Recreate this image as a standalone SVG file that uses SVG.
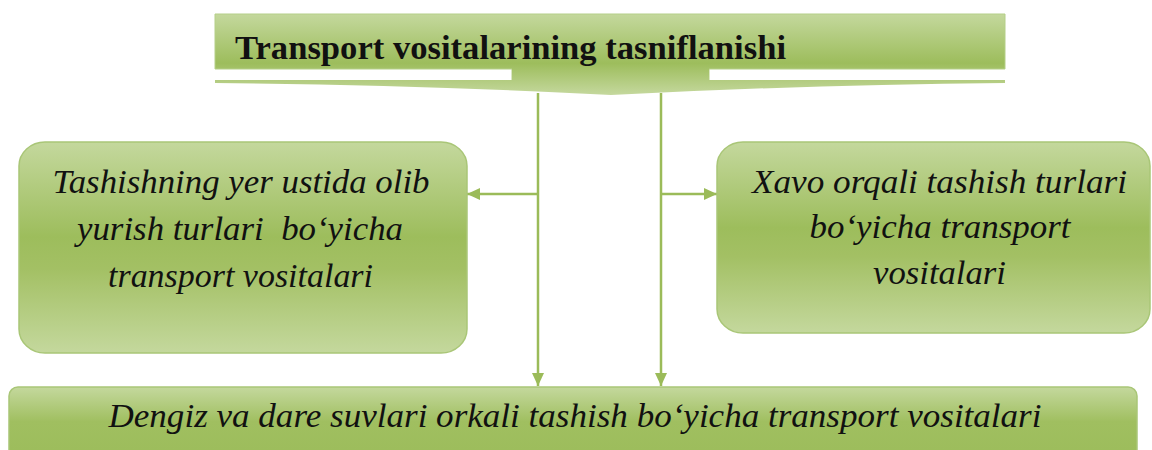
<svg xmlns="http://www.w3.org/2000/svg" width="1152" height="450" viewBox="0 0 1152 450">
  <defs>
    <linearGradient id="gBox" x1="0" y1="0" x2="0" y2="1">
      <stop offset="0" stop-color="#c4d89d"/>
      <stop offset="0.45" stop-color="#9dbd5c"/>
      <stop offset="0.6" stop-color="#a3c064"/>
      <stop offset="1" stop-color="#c4d89d"/>
    </linearGradient>
    <linearGradient id="gTitle" gradientUnits="userSpaceOnUse" x1="0" y1="14" x2="0" y2="96">
      <stop offset="0" stop-color="#c4d89d"/>
      <stop offset="0.6" stop-color="#9dbd5c"/>
      <stop offset="1" stop-color="#c6d9a0"/>
    </linearGradient>
    <linearGradient id="gBottom" gradientUnits="userSpaceOnUse" x1="0" y1="387" x2="0" y2="450">
      <stop offset="0" stop-color="#c4d89d"/>
      <stop offset="0.55" stop-color="#a0bf60"/>
      <stop offset="1" stop-color="#9dbd5c"/>
    </linearGradient>
    <marker id="arrow" markerUnits="userSpaceOnUse" markerWidth="14" markerHeight="14" refX="13" refY="7" orient="auto">
      <path d="M0,1 L13,7 L0,13 Z" fill="#9bbb59"/>
    </marker>
    <style>
      .box { stroke: #a9c677; stroke-width: 1.5; }
      .conn { stroke: #9bbb59; stroke-width: 2.5; fill: none; }
      .it { font-family: "Liberation Serif", serif; font-style: italic; font-size: 34px; fill: #111; text-anchor: middle; }
      .title { font-family: "Liberation Serif", serif; font-weight: bold; font-size: 33px; fill: #111; }
    </style>
  </defs>

  <g id="connectors">
    <line class="conn" x1="538" y1="93" x2="538" y2="386" marker-end="url(#arrow)"/>
    <line class="conn" x1="661" y1="93" x2="661" y2="386" marker-end="url(#arrow)"/>
    <line class="conn" x1="538" y1="194" x2="467" y2="194" marker-end="url(#arrow)"/>
    <line class="conn" x1="661" y1="194" x2="717" y2="194" marker-end="url(#arrow)"/>
  </g>

  <g id="title">
    <path d="M215,14 H1005 V69 H709 V81 H512 V69 H215 Z" fill="url(#gTitle)" stroke="#b5cf88" stroke-width="1"/>
    <path d="M215,80 H1005 V83 Q800,85 611,95 Q420,85 215,83 Z" fill="url(#gTitle)"/>
    <rect x="512" y="68" width="197" height="14" fill="url(#gTitle)"/>
    <text class="title" x="235" y="59" textLength="551" lengthAdjust="spacingAndGlyphs">Transport vositalarining tasniflanishi</text>
  </g>

  <g id="left">
    <rect class="box" x="19" y="142" width="448" height="211" rx="26" ry="24" fill="url(#gBox)"/>
    <text class="it" x="241" y="193" textLength="377" lengthAdjust="spacingAndGlyphs">Tashishning yer ustida olib</text>
    <text class="it" x="240" y="240" textLength="326" lengthAdjust="spacingAndGlyphs" style="white-space:pre">yurish turlari  bo‘yicha</text>
    <text class="it" x="240.5" y="287" textLength="265" lengthAdjust="spacingAndGlyphs">transport vositalari</text>
  </g>

  <g id="right">
    <rect class="box" x="717" y="142" width="433" height="191" rx="26" ry="24" fill="url(#gBox)"/>
    <text class="it" x="939.5" y="193" textLength="375" lengthAdjust="spacingAndGlyphs">Xavo orqali tashish turlari</text>
    <text class="it" x="940" y="238" textLength="261" lengthAdjust="spacingAndGlyphs">bo‘yicha transport</text>
    <text class="it" x="939.5" y="284" textLength="133" lengthAdjust="spacingAndGlyphs">vositalari</text>
  </g>

  <g id="bottom">
    <rect class="box" x="9" y="387" width="1128" height="90" rx="9" ry="9" fill="url(#gBottom)"/>
    <text class="it" x="575" y="427" font-size="31" textLength="933" lengthAdjust="spacingAndGlyphs">Dengiz va dare suvlari orkali tashish bo‘yicha transport vositalari</text>
  </g>
</svg>
